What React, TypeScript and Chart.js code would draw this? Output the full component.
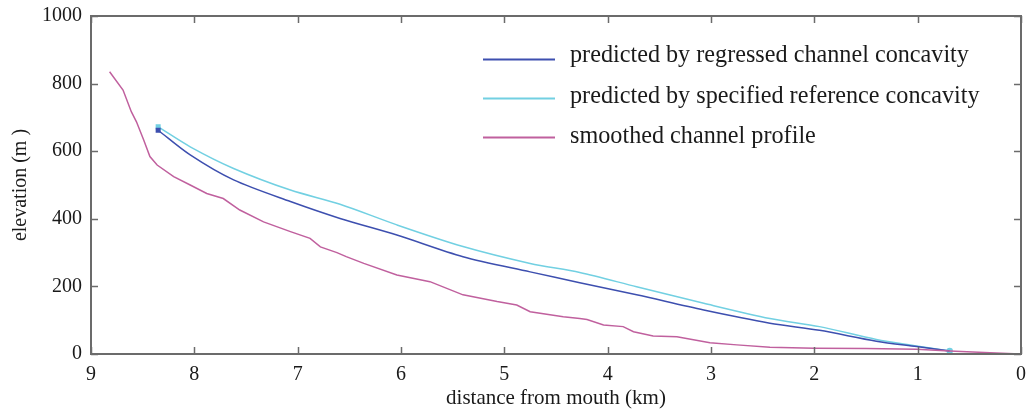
import React, { useEffect, useRef } from "react";
import { Chart, registerables } from "chart.js";

Chart.register(...registerables);

const xTicks = [9, 8, 7, 6, 5, 4, 3, 2, 1, 0];
const yTicks = [0, 200, 400, 600, 800, 1000];

const profileKm = [8.82, 8.69, 8.61, 8.56, 8.49, 8.43, 8.36, 8.2, 8.04, 7.88, 7.72, 7.56, 7.33, 7.07, 6.88, 6.78, 6.62, 6.53, 6.36, 6.04, 5.72, 5.4, 5.07, 4.88, 4.75, 4.43, 4.27, 4.2, 4.04, 3.85, 3.75, 3.56, 3.33, 3.01, 2.75, 2.43, 2.0, 1.5, 1.01, 0.69, 0.3, 0.01];
const profileElev = [835, 781, 717, 687, 633, 584, 559, 525, 500, 475, 460, 426, 391, 362, 342, 317, 300, 288, 268, 234, 214, 175, 155, 145, 125, 110, 105, 102, 86, 81, 66, 53, 51, 33, 27, 20, 17, 16, 14, 9, 4, 0];

const regressedKm = [8.35, 8.04, 7.62, 7.07, 6.59, 6.04, 5.4, 4.75, 4.27, 3.72, 3.07, 2.43, 1.95, 1.4, 1.01, 0.69];
const regressedElev = [662, 589, 515, 451, 401, 352, 288, 243, 211, 175, 130, 91, 70, 38, 22, 9];

const referenceKm = [8.35, 8.04, 7.62, 7.07, 6.59, 6.04, 5.4, 4.75, 4.27, 3.72, 3.07, 2.43, 1.95, 1.4, 1.01, 0.69];
const referenceElev = [672, 613, 549, 485, 443, 382, 318, 268, 241, 199, 150, 105, 81, 43, 24, 9];

const legendLabels = [
  "predicted by regressed channel concavity",
  "predicted by specified reference concavity",
  "smoothed channel profile",
];
const colors = ["#3d4faf", "#72d0e2", "#c0609e"];

const FONT = "'Liberation Serif', 'Times New Roman', serif";
const AXIS = "#6b6b6b";

const framePlugin = {
  id: "frameTicks",
  afterDatasetsDraw(chart: any) {
    const { ctx, chartArea: a, scales } = chart;
    ctx.save();
    ctx.strokeStyle = AXIS;
    ctx.lineWidth = 1.5;
    const tl = 7;
    ctx.beginPath();
    for (const v of xTicks) {
      const px = Math.round(scales.x.getPixelForValue(v)) + 0.5;
      ctx.moveTo(px, a.bottom);
      ctx.lineTo(px, a.bottom - tl);
      ctx.moveTo(px, a.top);
      ctx.lineTo(px, a.top + tl);
    }
    for (const v of yTicks) {
      const py = Math.round(scales.y.getPixelForValue(v)) + 0.5;
      ctx.moveTo(a.left, py);
      ctx.lineTo(a.left + tl, py);
      ctx.moveTo(a.right, py);
      ctx.lineTo(a.right - tl, py);
    }
    ctx.stroke();
    ctx.lineWidth = 2;
    ctx.strokeRect(a.left, a.top, a.right - a.left, a.bottom - a.top);
    // legend
    ctx.font = `24.2px ${FONT}`;
    ctx.textBaseline = "middle";
    ctx.fillStyle = "#1a1a1a";
    legendLabels.forEach((t, i) => {
      const y = 59 + i * 39;
      ctx.strokeStyle = colors[i];
      ctx.lineWidth = 2;
      ctx.beginPath();
      ctx.moveTo(483, y + 0.5);
      ctx.lineTo(555, y + 0.5);
      ctx.stroke();
      ctx.fillText(t, 570, 56 + i * 40.5);
    });
    ctx.restore();
  },
};

function pts(xs: number[], ys: number[]) {
  return xs.map((x, i) => ({ x, y: ys[i] }));
}

export default function App() {
  const ref = useRef<HTMLCanvasElement>(null);
  useEffect(() => {
    const n = regressedKm.length;
    const chart = new Chart(ref.current!, {
      type: "line",
      data: {
        datasets: [
          {
            label: legendLabels[2],
            data: pts(profileKm, profileElev),
            borderColor: colors[2],
            borderWidth: 1.5,
            pointRadius: 0,
            tension: 0,
          },
          {
            label: legendLabels[0],
            data: pts(regressedKm, regressedElev),
            borderColor: colors[0],
            backgroundColor: colors[0],
            borderWidth: 1.5,
            pointStyle: "rect",
            pointRadius: regressedKm.map((_, i) => (i === 0 ? 2.5 : 0)),
            tension: 0.3,
          },
          {
            label: legendLabels[1],
            data: pts(referenceKm, referenceElev),
            borderColor: colors[1],
            backgroundColor: colors[1],
            borderWidth: 1.5,
            pointStyle: referenceKm.map((_, i) => (i === 0 ? "rect" : "circle")) as any,
            pointRadius: referenceKm.map((_, i) => (i === 0 || i === n - 1 ? 2.5 : 0)),
            tension: 0.3,
          },
        ],
      },
      options: {
        animation: false,
        responsive: false,
        layout: { padding: { left: 0, right: 10, top: 16, bottom: 0 } },
        plugins: { legend: { display: false }, tooltip: { enabled: false } },
        scales: {
          x: {
            type: "linear",
            reverse: true,
            min: 0,
            max: 9,
            afterBuildTicks: (s: any) => {
              s.ticks = xTicks.map((v) => ({ value: v }));
            },
            afterFit: (s: any) => {
              s.height = 60;
              s.paddingLeft = 0;
              s.paddingRight = 0;
            },
            grid: { display: false, drawTicks: false },
            border: { display: false },
            ticks: {
              color: "#1a1a1a",
              font: { family: FONT, size: 20 },
              padding: 9,
              maxRotation: 0,
              autoSkip: false,
              callback: (v: any) => String(v),
            },
            title: {
              display: true,
              text: "distance from mouth (km)",
              color: "#1a1a1a",
              font: { family: FONT, size: 21 },
              padding: { top: 0, bottom: 3 },
            },
          },
          y: {
            type: "linear",
            min: 0,
            max: 1000,
            afterBuildTicks: (s: any) => {
              s.ticks = yTicks.map((v) => ({ value: v }));
            },
            afterFit: (s: any) => {
              s.width = 91;
              s.paddingTop = 0;
              s.paddingBottom = 0;
            },
            grid: { display: false, drawTicks: false },
            border: { display: false },
            ticks: {
              color: "#1a1a1a",
              font: { family: FONT, size: 20 },
              padding: 9,
              callback: (v: any) => String(v),
            },
            title: {
              display: true,
              text: "elevation (m )",
              color: "#1a1a1a",
              font: { family: FONT, size: 20 },
              padding: { top: 9, bottom: 0 },
            },
          },
        },
      },
      plugins: [framePlugin],
    });
    return () => chart.destroy();
  }, []);
  return (
    <div style={{ position: "fixed", left: 0, top: 0, width: 1031, height: 414, background: "#fff" }}>
      <canvas ref={ref} width={1031} height={414} />
    </div>
  );
}
